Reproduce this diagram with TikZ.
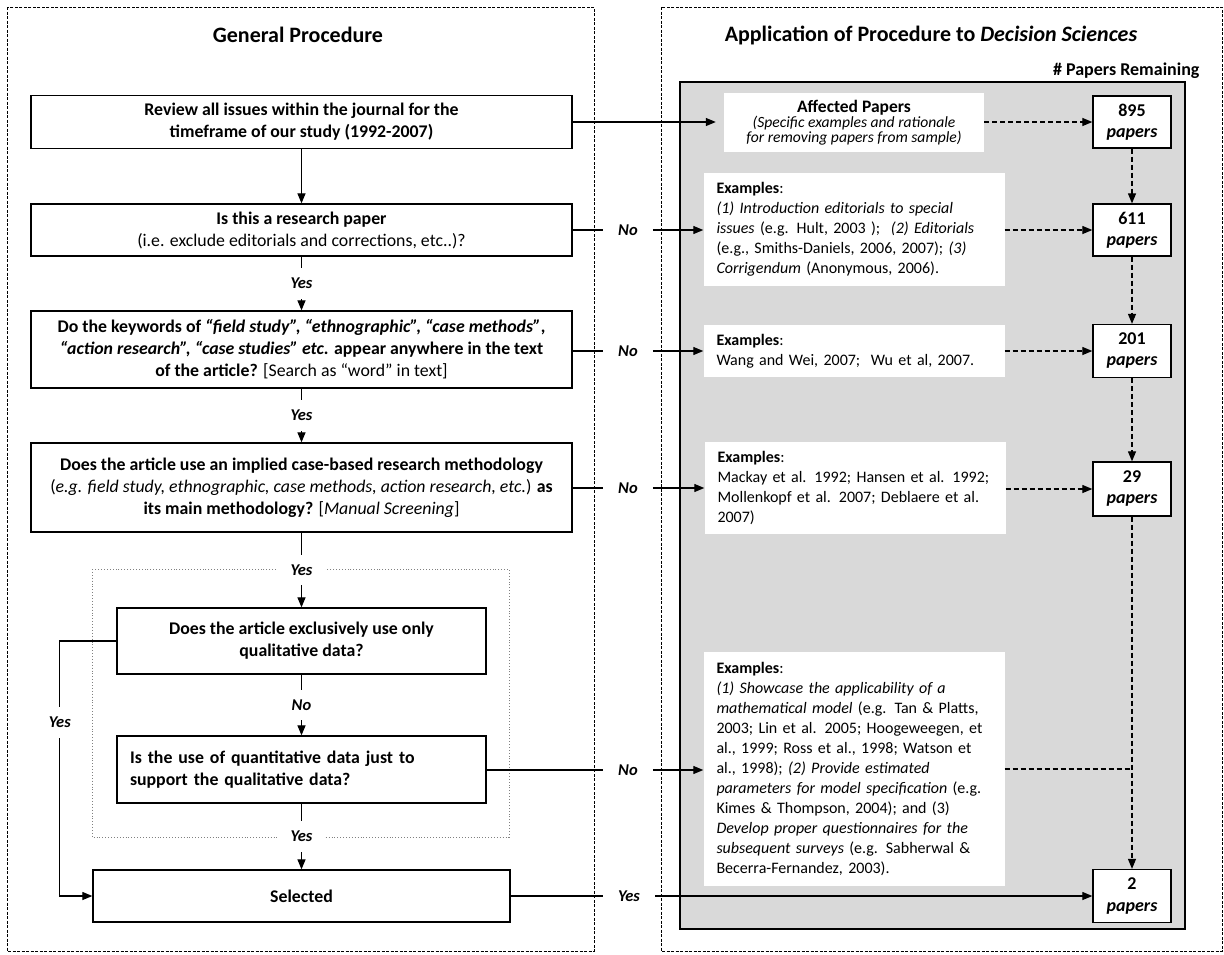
\documentclass[tikz,border=0pt]{standalone}
\usepackage{fontspec}
\setmainfont{Carlito}
\usetikzlibrary{arrows.meta}
\begin{document}
\begin{tikzpicture}[x=1pt,y=-1pt,
  panel/.style={draw=black, line width=0.9pt, dash pattern=on 3pt off 1.5pt},
  stepbox/.style={draw=black, line width=1.3pt, fill=white, inner sep=0pt, align=center, font=\fontsize{17.8}{22}\selectfont\bfseries},
  exbox/.style={fill=white, inner xsep=13pt, inner ysep=0pt, align=left, text width=275pt, minimum width=301pt, font=\fontsize{16}{20}\selectfont},
  cntbox/.style={draw=black, line width=1.3pt, fill=white, minimum width=78pt, align=center, inner sep=0pt, font=\fontsize{18}{21}\selectfont\bfseries},
  lbl/.style={font=\fontsize{16.5}{20}\selectfont\bfseries\itshape, fill=white, inner xsep=13pt, inner ysep=10pt},
  arr/.style={line width=1.2pt, -{Triangle[length=10pt,width=8pt]}},
  con/.style={line width=1.2pt},
  darr/.style={line width=1.2pt, dash pattern=on 5pt off 3pt, -{Triangle[length=10pt,width=8pt]}},
  dcon/.style={line width=1.2pt, dash pattern=on 5pt off 3pt},
]
\useasboundingbox (0,0) rectangle (1224,954);
\fill[white] (0,0) rectangle (1224,954);

% panels
\draw[panel] (7,7) rectangle (594,951);
\draw[panel] (661,7) rectangle (1222,951);
\draw[line width=1.1pt, fill=black!15] (680,82) rectangle (1185,929);
\draw[gray, line width=0.9pt, dotted] (92,569) rectangle (509,837);

% titles
\node[font=\fontsize{22}{26}\selectfont\bfseries] (t1) at (298,35) {General Procedure};
\node[font=\fontsize{22}{26}\selectfont\bfseries] (t2) at (931,35) {Application of Procedure to \textit{Decision Sciences}};
\node[font=\fontsize{18}{22}\selectfont\bfseries, anchor=east] (pr) at (1203,71) {\# Papers Remaining};

% left column
\node[stepbox, minimum width=541pt, minimum height=53pt] (b1) at (301.5,122)
  {Review all issues within the journal for the\\timeframe of our study (1992-2007)};
\node[stepbox, minimum width=541pt, minimum height=52pt] (b2) at (301.5,230)
  {Is this a research paper\\\mdseries(i.e. exclude editorials and corrections, etc..)?};
\node[stepbox, minimum width=541pt, minimum height=77pt] (b3) at (301.5,349.5)
  {Do the keywords of \textit{“field study”, “ethnographic”, “case methods”},\\
   \textit{“action research”, “case studies” etc.} appear anywhere in the text\\
   of the article? \mdseries[Search as “word” in text]};
\node[stepbox, minimum width=541pt, minimum height=89pt] (b4) at (301.5,487.5)
  {Does the article use an implied case-based research methodology\\
   {\mdseries(\textit{e.g. field study, ethnographic, case methods, action research, etc.})} as\\
   its main methodology? {\mdseries[\textit{Manual Screening}]}};
\node[stepbox, minimum width=369pt, minimum height=66pt] (b5) at (301.5,641)
  {Does the article exclusively use only\\qualitative data?};
\node[stepbox, minimum width=369pt, minimum height=67pt, text width=343pt, align=left, inner xsep=13pt] (b6) at (301.5,769.5)
  {Is the use of quantitative data just to\\support the qualitative data?};
\node[stepbox, minimum width=417pt, minimum height=52pt] (b7) at (301.5,896)
  {Selected};

\draw[arr] (b1) -- (b2);
\draw[arr] (b2) -- node[lbl]{Yes} (b3);
\draw[arr] (b3) -- node[lbl]{Yes} (b4);
\draw[arr] (b4) -- node[lbl]{Yes} (b5);
\draw[arr] (b5) -- node[lbl]{No} (b6);
\draw[arr] (b6) -- node[lbl]{Yes} (b7);
\draw[arr] (b5.west) -- ++(-56.5,0) |- node[lbl, pos=0.159]{Yes} (b7.west);

% right column
\node[fill=white, minimum width=260pt, minimum height=59pt, inner sep=0pt, align=center] (af) at (854,122.5)
  {{\fontsize{17.5}{20}\selectfont\bfseries Affected Papers}\\
   {\fontsize{15.6}{20}\selectfont\itshape (Specific examples and rationale}\\
   {\fontsize{15.6}{19}\selectfont\itshape for removing papers from sample)}};
\node[exbox, minimum height=113pt] (ex1) at (854,229.5)
  {\textbf{Examples}:\\
   \textit{(1) Introduction editorials to special}\\
   \textit{issues} (e.g. Hult, 2003 );\ \ \textit{(2) Editorials}\\
   (e.g., Smiths-Daniels, 2006, 2007); \textit{(3)}\\
   \textit{Corrigendum} (Anonymous, 2006).};
\node[exbox, minimum height=52pt] (ex2) at (854,351)
  {\textbf{Examples}:\\Wang and Wei, 2007;\ \ Wu et al, 2007.};
\node[exbox, minimum height=92pt] (ex3) at (855,488)
  {\textbf{Examples}:\\Mackay et al. 1992; Hansen et al. 1992;\\Mollenkopf et al. 2007; Deblaere et al.\\2007)};
\node[exbox, minimum height=234pt] (ex4) at (854,769)
  {\textbf{Examples}:\\
   \textit{(1) Showcase the applicability of a}\\
   \textit{mathematical model} (e.g. Tan \& Platts,\\
   2003; Lin et al. 2005; Hoogeweegen, et\\
   al., 1999; Ross et al., 1998; Watson et\\
   al., 1998); \textit{(2) Provide estimated}\\
   \textit{parameters for model specification} (e.g.\\
   Kimes \& Thompson, 2004); and (3)\\
   \textit{Develop proper questionnaires for the}\\
   \textit{subsequent surveys} (e.g. Sabherwal \&\\
   Becerra-Fernandez, 2003).};

\node[cntbox, minimum height=52pt] (c1) at (1132,122) {895\\\textit{papers}};
\node[cntbox, minimum height=52pt] (c2) at (1132,230) {611\\\textit{papers}};
\node[cntbox, minimum height=53pt] (c3) at (1132,351) {201\\\textit{papers}};
\node[cntbox, minimum height=54pt] (c4) at (1132,489) {29\\\textit{papers}};
\node[cntbox, minimum height=53pt] (c5) at (1132,896) {2\\\textit{papers}};

% labels between the panels
\node[lbl, inner xsep=15pt] (n1) at (628,230) {No};
\node[lbl, inner xsep=15pt] (n2) at (628,351) {No};
\node[lbl, inner xsep=15pt] (n3) at (628,488) {No};
\node[lbl, inner xsep=15pt] (n4) at (628,770) {No};
\node[lbl, inner xsep=15pt] (y5) at (629,896) {Yes};

% connectors left -> right
\draw[arr, shorten >=8pt] (b1.east) -- (b1.east -| af.west);
\draw[con] (n1.west -| b2.east) -- (n1.west);
\draw[arr] (n1.east) -- (n1.east -| ex1.west);
\draw[con] (n2.west -| b3.east) -- (n2.west);
\draw[arr] (n2.east) -- (n2.east -| ex2.west);
\draw[con] (n3.west -| b4.east) -- (n3.west);
\draw[arr] (n3.east) -- (n3.east -| ex3.west);
\draw[con] (n4.west -| b6.east) -- (n4.west);
\draw[arr] (n4.east) -- (n4.east -| ex4.west);
\draw[con] (y5.west -| b7.east) -- (y5.west);
\draw[arr] (y5.east) -- (y5.east -| c5.west);

% dashed connectors on the right
\draw[darr] (af.east |- c1.west) -- (c1.west);
\draw[darr] (ex1.east |- c2.west) -- (c2.west);
\draw[darr] (ex2.east |- c3.west) -- (c3.west);
\draw[darr] (ex3.east |- c4.west) -- (c4.west);
\draw[darr] (c1) -- (c2);
\draw[darr] (c2) -- (c3);
\draw[darr] (c3) -- (c4);
\draw[darr] (c4) -- (c5);
\coordinate (j) at (ex4.east -| c5);
\draw[dcon] (ex4.east) -- (j);
\end{tikzpicture}
\end{document}
